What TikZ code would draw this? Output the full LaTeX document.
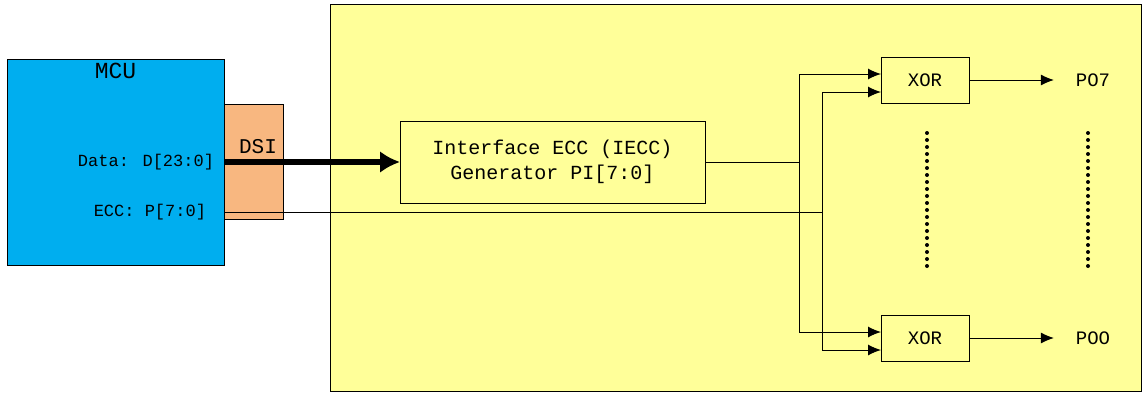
\documentclass[tikz,border=0pt]{standalone}
\usepackage{fontspec}
\setmainfont{Liberation Mono}
\usetikzlibrary{arrows.meta}
\usetikzlibrary{positioning}
\definecolor{mcublue}{RGB}{0,174,239}
\definecolor{dsiorange}{RGB}{248,183,128}
\definecolor{chipyellow}{RGB}{255,255,153}

\begin{document}
\begin{tikzpicture}[x=1pt, y=-1pt,
    every node/.style={inner sep=0pt, outer sep=0pt},
    blk/.style={draw, line width=1pt},
    xorbox/.style={blk, minimum width=88pt, minimum height=46pt, font=\fontsize{19}{19}\selectfont},
    sig/.style={font=\fontsize{17}{17}\selectfont},
    wire/.style={line width=1pt},
    arr/.style={wire, -{Latex[length=13pt, width=11pt]}},
    bus/.style={line width=6pt, -{Latex[length=20pt, width=22pt]}},
    dots/.style={line width=4pt, line cap=round, dash pattern=on 0pt off 7pt}
  ]
    \useasboundingbox (0,0) rectangle (1143,394);
    % chip area
    \node[blk, fill=chipyellow, minimum width=811pt, minimum height=387pt] (chip) at (736,197.5) {};
    % MCU with DSI port
    \node[blk, fill=dsiorange, minimum width=59pt, minimum height=115pt] (dsi) at (253.5,161.5) {};
    \node[blk, fill=mcublue, minimum width=217pt, minimum height=206pt] (mcu) at (115.5,162) {};
    \node[font=\fontsize{23}{23}\selectfont, below=4pt of mcu.north] (mcutitle) {MCU};
    \node[font=\fontsize{21}{21}\selectfont] (dsititle) at (258,147) {DSI};
    \node[sig, anchor=east] (data) at (214,162) {Data: D[23:0]};
    \node[sig, anchor=east] (ecc) at (206,212) {ECC: P[7:0]};
    % generator
    \node[blk, minimum width=305pt, minimum height=82pt, align=center,
      font=\fontsize{20}{25}\selectfont] (iecc) at (552.5,162) {Interface ECC (IECC)\\Generator PI[7:0]};
    % XOR gates and outputs
    \node[xorbox] (xortop) at (925,80) {XOR};
    \node[xorbox] (xorbot) at (925,338) {XOR};
    \node[font=\fontsize{19}{19}\selectfont] (potop) at (1093,80) {PO7};
    \node[font=\fontsize{19}{19}\selectfont] (pobot) at (1093,338) {POO};
    \coordinate (pijoin) at (799,162);
    \coordinate (eccjoin) at (822,212);
    \coordinate (eccstart) at (224,212);
    \coordinate (busstart) at (224,162);
    % connections
    \draw[bus] (busstart) -- (iecc.west);
    \draw[wire] (eccstart) -- (eccjoin);
    \draw[wire] (iecc.east) -- (pijoin);
    \draw[arr] (pijoin) |- ([yshift=6pt]xortop.west);
    \draw[arr] (pijoin) |- ([yshift=6pt]xorbot.west);
    \draw[arr] (eccjoin) |- ([yshift=-12pt]xortop.west);
    \draw[arr] (eccjoin) |- ([yshift=-12pt]xorbot.west);
    \draw[arr] (xortop.east) -- ([xshift=-22pt]potop.west);
    \draw[arr] (xorbot.east) -- ([xshift=-22pt]pobot.west);
    % omitted gates
    \draw[dots] (927,133) -- (927,273);
    \draw[dots] (1088,133) -- (1088,273);
  \end{tikzpicture}
\end{document}
